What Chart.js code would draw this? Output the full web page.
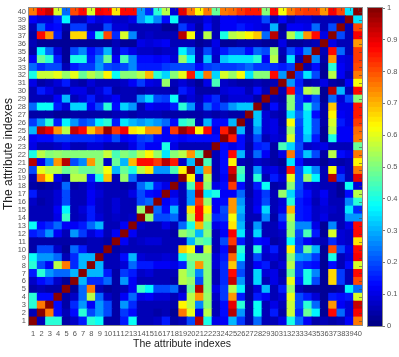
<!DOCTYPE html>
<html>
<head>
<meta charset="utf-8">
<title>Attribute correlation</title>
<style>
  html, body { margin: 0; padding: 0; background: #fff; }
  #wrap { position: relative; width: 399px; height: 357px; overflow: hidden; }
  canvas { position: absolute; top: 0; }
  #matrix { left: 0; }
  #bar { left: 360px; }
</style>
<script src="https://cdn.jsdelivr.net/npm/chart.js@4/dist/chart.umd.min.js"></script>
</head>
<body>
<div id="wrap">
  <canvas id="matrix" width="399" height="357"></canvas>
  <canvas id="bar" width="39" height="357"></canvas>
</div>
<script>
// tick labels
const indexLabels = ['1','2','3','4','5','6','7','8','9','10','11','12','13','14','15','16','17','18','19','20',
  '21','22','23','24','25','26','27','28','29','30','31','32','33','34','35','36','37','38','39','40'];
const scaleLabels = ['0','0.1','0.2','0.3','0.4','0.5','0.6','0.7','0.8','0.9','1'];

// matrix is symmetric, so each row only holds the columns left of the diagonal
const row1 = [];
const row2 = [.06];
const row3 = [.42,.75];
const row4 = [.42,.13,.13];
const row5 = [.04,.05,.04,.04];
const row6 = [.07,.13,.17,.07,.03];
const row7 = [.15,.42,.27,.22,.22,.3];
const row8 = [.42,.2,.12,.55,.75,.17,.3];
const row9 = [.38,.27,.27,.22,.05,.17,.3,.3];
const row10 = [.04,.2,.2,.07,.02,.22,.15,.05,.05];
const row11 = [.04,.04,.04,.04,.04,.04,.04,.05,.05,.04];
const row12 = [.15,.18,.27,.12,.05,.27,.18,.08,.13,.06,.12];
const row13 = [.38,.13,.17,.22,.12,.12,.15,.22,.3,.05,.06,.12];
const row14 = [.05,.05,.05,.1,.43,.05,.07,.15,.08,.05,.07,.05,.07];
const row15 = [.05,.06,.05,.12,.37,.05,.08,.15,.07,.05,.08,.05,.05,.53];
const row16 = [.07,.04,.05,.08,.2,.05,.06,.12,.07,.05,.08,.05,.05,.2,.22];
const row17 = [.15,.05,.05,.08,.2,.05,.06,.12,.08,.06,.06,.05,.1,.2,.13,.12];
const row18 = [.04,.03,.04,.06,.22,.04,.05,.1,.07,.05,.05,.04,.06,.22,.3,.15,.1];
const row19 = [.05,.75,.63,.1,.04,.55,.55,.15,.4,.68,.05,.52,.22,.05,.05,.05,.05,.05];
const row20 = [.2,.6,.55,.55,.47,.52,.47,.47,.5,.62,.3,.47,.4,.55,.65,.27,.27,.45,.63];
const row21 = [.95,.1,.25,.72,.95,.2,.25,.73,.5,.07,.47,.3,.7,.87,.87,.82,.95,.85,.07,.3];
const row22 = [.4,.55,.5,.52,.5,.5,.5,.5,.5,.57,.45,.5,.47,.55,.63,.52,.35,.5,.55,.72,.45];
const row23 = [.1,.05,.05,.07,.1,.05,.05,.09,.08,.06,.06,.05,.1,.17,.12,.12,.4,.1,.05,.05,.05,.05];
const row24 = [.12,.13,.13,.18,.18,.17,.17,.17,.15,.14,.2,.12,.13,.18,.2,.14,.12,.14,.12,.13,.14,.13,.13];
const row25 = [.3,.95,.9,.72,.55,.93,.87,.68,.78,.97,.82,.88,.65,.62,.72,.72,.12,.82,.97,.92,.63,.87,.1,.85];
const row26 = [.18,.28,.42,.15,.37,.28,.2,.22,.37,.42,.15,.35,.3,.27,.3,.27,.22,.13,.42,.45,.05,.3,.14,.14,.3];
const row27 = [.04,.04,.04,.03,.03,.04,.04,.04,.04,.04,.05,.05,.04,.05,.05,.05,.04,.04,.04,.04,.04,.05,.04,.05,.04,.04];
const row28 = [.22,.38,.38,.15,.08,.33,.33,.12,.2,.42,.13,.33,.27,.05,.12,.1,.1,.15,.42,.27,.07,.22,.15,.2,.28,.32,.32];
const row29 = [.05,.06,.05,.12,.3,.05,.08,.15,.07,.08,.12,.05,.05,.25,.33,.2,.18,.38,.05,.08,.06,.12,.17,.05,.08,.08,.08,.04];
const row30 = [.05,.15,.1,.05,.05,.1,.1,.06,.08,.15,.04,.06,.06,.04,.05,.05,.05,.04,.15,.1,.04,.04,.04,.08,.1,.1,.05,.13,.05];
const row31 = [.1,.04,.05,.08,.15,.05,.04,.08,.05,.06,.05,.07,.12,.18,.1,.08,.53,.05,.08,.06,.03,.1,.45,.07,.05,.04,.04,.05,.04,.05];
const row32 = [.4,.57,.57,.6,.53,.6,.48,.55,.5,.63,.38,.5,.5,.55,.7,.42,.33,.5,.6,.85,.35,.75,.33,.58,.52,.62,.35,.5,.5,.87,.27];
const row33 = [.23,.17,.2,.2,.05,.15,.18,.18,.27,.2,.18,.2,.25,.15,.15,.15,.18,.2,.2,.2,.13,.18,.2,.18,.18,.2,.22,.18,.18,.17,.15,.18];
const row34 = [.12,.48,.42,.15,.03,.4,.4,.15,.25,.48,.12,.45,.25,.13,.13,.12,.13,.08,.52,.37,.05,.32,.07,.32,.35,.35,.35,.42,.12,.55,.04,.35,.05];
const row35 = [.04,.37,.22,.08,.02,.2,.25,.13,.18,.3,.07,.15,.1,.07,.07,.06,.07,.07,.37,.25,.05,.2,.08,.15,.2,.2,.14,.22,.2,.52,.05,.2,.14,.25];
const row36 = [.05,.03,.03,.03,.02,.03,.03,.03,.03,.03,.05,.03,.03,.1,.08,.1,.12,.05,.05,.05,.03,.04,.1,.02,.03,.04,.04,.04,.03,.03,.1,.03,.03,.04,.05];
const row37 = [.04,.87,.73,.15,.02,.67,.67,.14,.4,.8,.17,.58,.25,.05,.07,.06,.06,.05,.95,.62,.05,.55,.05,.4,.55,.58,.63,.68,.22,.95,.04,.55,.42,.73,.87,.1];
const row38 = [.05,.22,.12,.13,.04,.18,.18,.05,.05,.2,.08,.08,.05,.05,.05,.05,.03,.03,.18,.1,.04,.13,.05,.12,.12,.15,.12,.1,.08,.3,.03,.12,.12,.1,.22,.05,.2];
const row39 = [.12,.08,.08,.15,.37,.05,.05,.13,.08,.1,.07,.07,.1,.27,.35,.25,.13,.38,.06,.06,.05,.1,.05,.12,.12,.1,.1,.1,.2,.05,.12,.05,.08,.08,.06,.06,.06,.06];
const row40 = [.75,.88,.93,.58,.22,.8,.87,.58,.88,.87,.65,.87,.87,.27,.17,.42,.55,.08,.9,.75,.63,.75,.48,.75,.77,.82,.85,.85,.5,.87,.62,.75,.8,.82,.82,.72,.88,.8,.35];

const rows = [row1,row2,row3,row4,row5,row6,row7,row8,row9,row10,row11,row12,row13,row14,row15,row16,row17,row18,row19,row20,
  row21,row22,row23,row24,row25,row26,row27,row28,row29,row30,row31,row32,row33,row34,row35,row36,row37,row38,row39,row40];

const tickFont = { family: '"Liberation Sans"', size: 7.5 };

// MATLAB jet, 64 steps
function jet(v) {
  const level = Math.min(63, Math.floor(v * 64));
  const t = (level + 0.5) / 64;
  const ch = c => Math.round(255 * Math.max(0, Math.min(1, 1.5 - Math.abs(4 * t - c))));
  return `rgb(${ch(3)},${ch(2)},${ch(1)})`;
}

function cell(r, c) {
  if (r === c) return 1;
  return r > c ? rows[r][c] : rows[c][r];
}

// one stacked dataset per row, one coloured segment per column
const matrixSets = rows.map((_, r) => ({
  data: indexLabels.map(() => 1),
  backgroundColor: indexLabels.map((_, c) => jet(cell(r, c))),
  borderWidth: 0,
  inflateAmount: 0.5,
  barPercentage: 1,
  categoryPercentage: 1
}));

const innerTicks = {
  id: 'innerTicks',
  afterDatasetsDraw(chart) {
    const { ctx, chartArea: a, scales } = chart;
    ctx.save();
    ctx.strokeStyle = 'rgba(70,70,70,0.55)';
    ctx.lineWidth = 1;
    ctx.beginPath();
    indexLabels.forEach((_, i) => {
      const x = Math.round(scales.x.getPixelForTick(i)) + 0.5;
      const y = Math.round(scales.y.getPixelForValue(i + 0.5)) + 0.5;
      ctx.moveTo(x, a.top); ctx.lineTo(x, a.top + 3);
      ctx.moveTo(a.right, y); ctx.lineTo(a.right - 3, y);
    });
    ctx.stroke();
    ctx.strokeStyle = '#8a8a8a';
    ctx.strokeRect(a.left - 0.5, a.top - 0.5, a.right - a.left + 1, a.bottom - a.top + 1);
    ctx.restore();
  }
};

// axis titles sit off-centre in the original so they are placed by hand
const axisTitles = {
  id: 'axisTitles',
  afterDraw(chart) {
    const { ctx } = chart;
    ctx.save();
    ctx.fillStyle = '#222';
    ctx.textAlign = 'center';
    ctx.textBaseline = 'middle';
    ctx.font = '10.5px "Liberation Sans"';
    ctx.fillText('The attribute indexes', 182, 344);
    ctx.translate(9, 154);
    ctx.rotate(-Math.PI / 2);
    ctx.font = '12px "Liberation Sans"';
    ctx.fillText('The attribute indexes', 0, 0);
    ctx.restore();
  }
};

new Chart(document.getElementById('matrix'), {
  type: 'bar',
  data: { labels: indexLabels, datasets: matrixSets },
  plugins: [innerTicks, axisTitles],
  options: {
    responsive: false,
    animation: false,
    layout: { padding: { top: 8, right: 37, left: 0, bottom: 0 } },
    plugins: { legend: { display: false }, tooltip: { enabled: false } },
    scales: {
      x: {
        stacked: true,
        grid: { display: false, drawTicks: false },
        border: { display: false },
        ticks: { autoSkip: false, maxRotation: 0, minRotation: 0, padding: 4, color: '#555', font: tickFont },
        afterFit: s => { s.height = 32; }
      },
      y: {
        stacked: true,
        min: 0,
        max: 40,
        grid: { display: false, drawTicks: false },
        border: { display: false },
        afterBuildTicks: axis => { axis.ticks = indexLabels.map((_, i) => ({ value: i + 0.5 })); },
        ticks: { autoSkip: false, padding: 3, color: '#555', font: tickFont, callback: v => indexLabels[Math.floor(v)] },
        afterFit: s => { s.width = 29; }
      }
    }
  }
});

// colour bar
const barLevels = [];
for (let i = 0; i < 64; i++) barLevels.push(i);

const barFrame = {
  id: 'barFrame',
  afterDatasetsDraw(chart) {
    const { ctx, chartArea: a } = chart;
    ctx.save();
    ctx.strokeStyle = '#8a8a8a';
    ctx.strokeRect(a.left - 0.5, a.top - 0.5, a.right - a.left + 1, a.bottom - a.top + 1);
    ctx.restore();
  }
};

new Chart(document.getElementById('bar'), {
  type: 'bar',
  data: {
    labels: ['c'],
    datasets: barLevels.map(l => ({
      data: [1 / 64],
      backgroundColor: jet(l / 64),
      borderWidth: 0,
      inflateAmount: 0.5,
      barPercentage: 1,
      categoryPercentage: 1
    }))
  },
  plugins: [barFrame],
  options: {
    responsive: false,
    animation: false,
    layout: { padding: { top: 8, left: 8, right: 0, bottom: 31 } },
    plugins: { legend: { display: false }, tooltip: { enabled: false } },
    scales: {
      x: { stacked: true, display: false },
      y: {
        stacked: true,
        position: 'right',
        min: 0,
        max: 1,
        grid: { display: true, drawOnChartArea: false, tickLength: 3, color: '#777' },
        border: { display: true, color: '#888' },
        afterBuildTicks: axis => { axis.ticks = scaleLabels.map(l => ({ value: Number(l) })); },
        ticks: { padding: 2, color: '#555', font: tickFont, callback: v => String(Number(v.toFixed(1))) },
        afterFit: s => { s.width = 17; }
      }
    }
  }
});
</script>
</body>
</html>
